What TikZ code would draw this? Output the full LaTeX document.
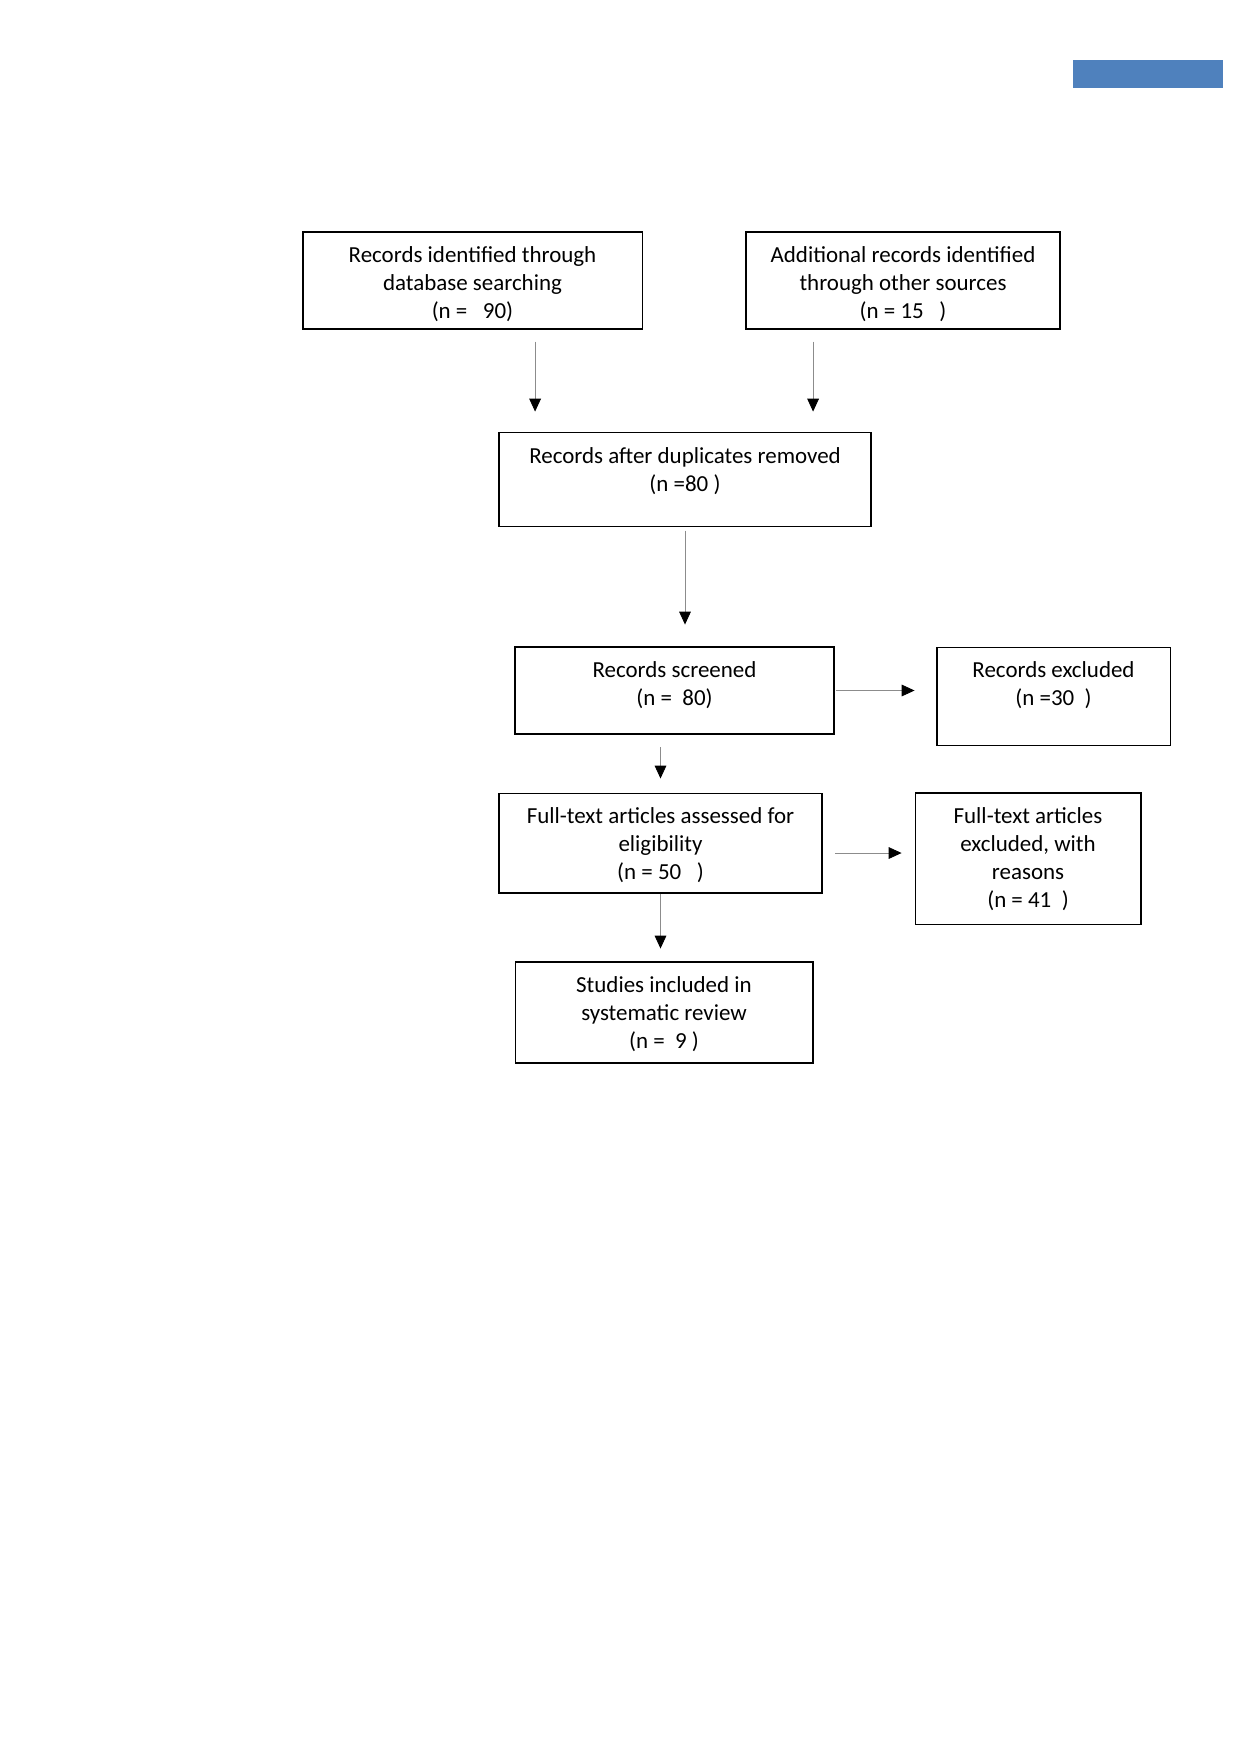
\documentclass[tikz,border=0pt]{standalone}
\usepackage{fontspec}
\setmainfont{Carlito}
\usetikzlibrary{arrows.meta}

\definecolor{headerblue}{HTML}{4F81BD}

\begin{document}
\begin{tikzpicture}[
    x=0.4793pt, y=-0.4793pt,
    box/.style 2 args={rectangle, draw, line width=0.5pt, inner sep=0pt,
        execute at begin node={\begin{minipage}[t][#2][t]{#1}\centering
            \fontsize{11}{13.4}\selectfont\rule{0pt}{14.6pt}},
        execute at end node={\end{minipage}}},
    arrow/.style={draw=black!45, line width=0.4pt,
        -{Triangle[width=5.6pt, length=6.2pt, color=black]}}
]
\useasboundingbox (0,0) rectangle (1242,1754);

% header bar
\fill[headerblue] (1073,60) rectangle (1223,88);

% Identification
\node[box={162.5pt}{46.5pt}] (db) at (472.5, 280.5)
    {Records identified through\\database searching\\(n =\ \ \ 90)};
\node[box={150.5pt}{46.5pt}] (other) at (903, 280.5)
    {Additional records identified\\through other sources\\(n = 15\ \ \ )};
\node[box={178.3pt}{44.6pt}] (dup) at (685, 479.5)
    {Records after duplicates removed\\(n =80 )};

% Screening
\node[box={152.9pt}{41.7pt}] (screened) at (674.5, 690.5)
    {Records screened\\(n =\ \ 80)};
\node[box={111.7pt}{47.4pt}] (excluded) at (1053.5, 696.5)
    {Records excluded\\(n =30\ \ )};

% Eligibility
\node[box={154.8pt}{47.9pt}] (fulltext) at (660.5, 843)
    {Full-text articles assessed for\\eligibility\\(n = 50\ \ \ )};
\node[box={108.3pt}{62.8pt}] (ftexcl) at (1028, 858.5)
    {Full-text articles\\excluded, with\\reasons\\(n = 41\ \ )};

% Included
\node[box={142.8pt}{48.4pt}] (included) at (664, 1012.5)
    {Studies included in\\systematic review\\(n =\ \ 9 )};

% helper points for off-centre arrows
\coordinate (dbout) at ([xshift=30pt]db.south);
\coordinate (otherout) at ([xshift=-43.1pt]other.south);
\coordinate (ftout) at ([yshift=-4.8pt]fulltext.east);

% connectors
\draw[arrow, shorten <=5.75pt, shorten >=10pt] (dbout) -- (dbout |- dup.north);
\draw[arrow, shorten <=5.75pt, shorten >=10pt] (otherout) -- (otherout |- dup.north);
\draw[arrow, shorten <=2pt, shorten >=10.5pt] (dup.south) -- (dup.south |- screened.north);
\draw[arrow, shorten <=6.2pt, shorten >=6.7pt] (screened.south -| fulltext.north) -- (fulltext.north);
\draw[arrow, shorten <=0.5pt, shorten >=10.5pt] (screened.east) -- (screened.east -| excluded.west);
\draw[arrow, shorten <=6.2pt, shorten >=6.2pt] (ftout) -- (ftout -| ftexcl.west);
\draw[arrow, shorten >=6.2pt] (fulltext.south) -- (fulltext.south |- included.north);

\end{tikzpicture}
\end{document}
